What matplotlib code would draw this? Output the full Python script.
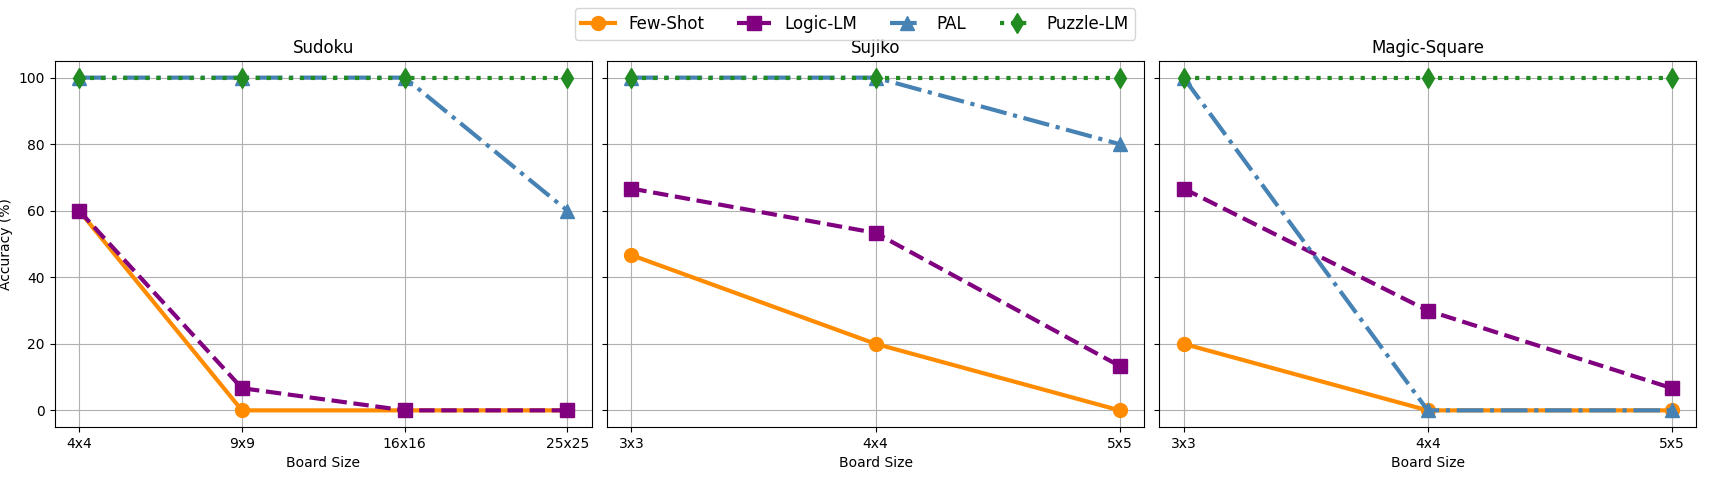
import matplotlib
matplotlib.use("Agg")
import matplotlib.pyplot as plt

puzzles = ['Sudoku', 'Sujiko', 'Magic-Square']
sizes = {
    'Sudoku': ['4x4', '9x9', '16x16', '25x25'],
    'Sujiko': ['3x3', '4x4', '5x5'],
    'Magic-Square': ['3x3', '4x4', '5x5'],
}

few_shot = {
    'Sudoku': [60, 0, 0, 0],
    'Sujiko': [46.67, 20, 0],
    'Magic-Square': [20, 0, 0],
}
logic_lm = {
    'Sudoku': [60, 6.67, 0, 0],
    'Sujiko': [66.67, 53.33, 13.33],
    'Magic-Square': [66.67, 30, 6.67],
}
pal = {
    'Sudoku': [100, 100, 100, 60],
    'Sujiko': [100, 100, 80],
    'Magic-Square': [100, 0, 0],
}
puzzle_lm = {
    'Sudoku': [100, 100, 100, 100],
    'Sujiko': [100, 100, 100],
    'Magic-Square': [100, 100, 100],
}

methods = [
    ('Few-Shot', few_shot, 'darkorange', 'o', '-'),
    ('Logic-LM', logic_lm, 'purple', 's', '--'),
    ('PAL', pal, 'steelblue', '^', '-.'),
    ('Puzzle-LM', puzzle_lm, 'forestgreen', 'd', ':'),
]

fig, axes = plt.subplots(1, 3, figsize=(17.1, 5), sharey=True)

for ax, p in zip(axes, puzzles):
    for name, data, color, marker, ls in methods:
        ax.plot(sizes[p], data[p], label=name, color=color, marker=marker,
                linestyle=ls, linewidth=3, markersize=10)
    ax.set_title(p)
    ax.set_xlabel('Board Size')
    ax.grid(True)

axes[0].set_ylabel('Accuracy (%)')

handles, labels = axes[0].get_legend_handles_labels()
fig.legend(handles, labels, loc='upper center', ncol=4, fontsize=12,
           bbox_to_anchor=(0.5, 1.0))

plt.subplots_adjust(left=0.032, right=0.992, top=0.878, bottom=0.146, wspace=0.028)
plt.savefig('out.png', dpi=100)
